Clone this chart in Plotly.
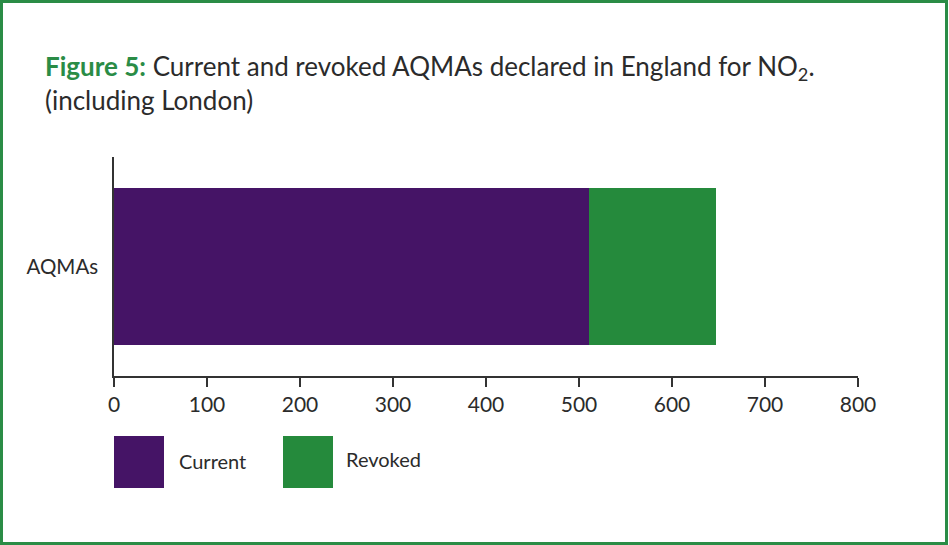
import plotly.graph_objects as go

categories = ["AQMAs"]
series_names = ["Current", "Revoked"]
current_values = [511]
revoked_values = [136]
series_colors = ["#451466", "#258a3c"]
x_tick_values = [0, 100, 200, 300, 400, 500, 600, 700, 800]

FONT = "Lato, 'Open Sans', sans-serif"
TEXT = "#2b2b2b"

fig = go.Figure()
for name, vals, col in zip(series_names, [current_values, revoked_values], series_colors):
    fig.add_trace(go.Bar(
        y=categories, x=vals, name=name, orientation="h",
        marker=dict(color=col, line=dict(width=0)),
        width=0.72, showlegend=False,
    ))

W, H = 949, 545
L, R, T, B = 114, 91, 157, 169
pw, ph = W - L - R, H - T - B

def px_x(px):
    return (px - L) / pw

def px_y(py):
    return (H - B - py) / ph

shapes = []
annotations = []
# custom legend keys
legend_pos = [(114, 436, 177, 461), (283, 436, 344, 459)]
for (bx, by, tx, ty), name, col in zip(legend_pos, series_names, series_colors):
    shapes.append(dict(type="rect", xref="paper", yref="paper",
                       x0=px_x(bx), x1=px_x(bx + 50), y0=px_y(by + 52), y1=px_y(by),
                       fillcolor=col, line=dict(width=0)))
    annotations.append(dict(text=name, xref="paper", yref="paper",
                            x=px_x(tx), y=px_y(ty), xanchor="left", yanchor="middle",
                            showarrow=False, font=dict(family=FONT, size=20, color=TEXT)))

# outer green border
shapes.append(dict(type="rect", xref="paper", yref="paper",
                   x0=px_x(1.5), x1=px_x(946.5), y0=px_y(543.5), y1=px_y(1.5),
                   line=dict(color="#2a8c46", width=3), fillcolor="rgba(0,0,0,0)", layer="below"))

fig.update_layout(
    width=W, height=H,
    margin=dict(l=L, r=R, t=T, b=B, pad=0),
    paper_bgcolor="white", plot_bgcolor="white",
    barmode="stack",
    font=dict(family=FONT, color=TEXT),
    title=dict(
        text="<span style='color:#2a8c46'><b>Figure 5:</b></span> Current and revoked AQMAs declared in England for NO<sub>2</sub>.<br>(including London)",
        x=45 / W, xanchor="left", xref="container",
        y=1 - 76 / H, yanchor="top", yref="container",
        font=dict(family=FONT, size=26, color=TEXT),
    ),
    xaxis=dict(
        range=[0, 800], tickvals=x_tick_values, showgrid=False, zeroline=False,
        showline=True, linecolor="#333333", linewidth=1.5,
        ticks="outside", ticklen=9, tickwidth=1.5, tickcolor="#333333",
        tickfont=dict(family=FONT, size=21, color=TEXT),
    ),
    yaxis=dict(
        range=[-0.5, 0.5], showgrid=False, zeroline=False,
        showline=True, linecolor="#333333", linewidth=1.5,
        ticks="", ticklabelstandoff=10,
        tickfont=dict(family=FONT, size=20.5, color=TEXT),
    ),
    shapes=shapes, annotations=annotations,
)

fig.write_html("out.html", config={"displayModeBar": False},
               post_script="document.body.style.margin='0';document.body.style.overflow='hidden';")
